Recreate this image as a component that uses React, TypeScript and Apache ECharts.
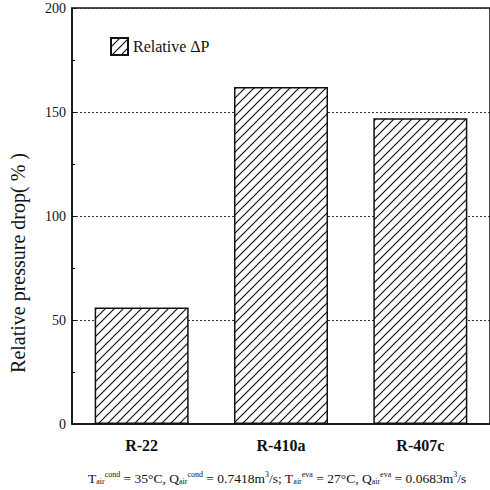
import React, { useEffect, useRef } from "react";
import * as echarts from "echarts";

const categories = ["R-22", "R-410a", "R-407c"];
const relativeDeltaP = [56, 162, 147];
const seriesName = "Relative \u0394P";
const yAxisTitle = "Relative pressure drop( % )";

const SERIF = "'Liberation Serif', 'DejaVu Serif', serif";

function makeHatch(): HTMLCanvasElement {
  const s = 9;
  const c = document.createElement("canvas");
  c.width = s;
  c.height = s;
  const ctx = c.getContext("2d")!;
  ctx.fillStyle = "#ffffff";
  ctx.fillRect(0, 0, s, s);
  ctx.strokeStyle = "#111111";
  ctx.lineWidth = 1.2;
  ctx.beginPath();
  for (const k of [0, s, 2 * s]) {
    ctx.moveTo(-2, k + 2);
    ctx.lineTo(k + 2, -2);
  }
  ctx.stroke();
  return c;
}

export default function App() {
  const ref = useRef<HTMLDivElement>(null);
  useEffect(() => {
    if (!ref.current) return;
    const chart = echarts.init(ref.current, null, { renderer: "svg" });
    const hatch = { image: makeHatch(), repeat: "repeat" } as any;
    chart.setOption({
      animation: false,
      backgroundColor: "#ffffff",
      grid: {
        left: 72,
        top: 8,
        right: -1,
        bottom: 66,
        show: true,
        borderColor: "#111",
        borderWidth: 1.5,
        backgroundColor: "transparent",
      },
      legend: {
        left: 105,
        top: 32,
        itemWidth: 17,
        itemHeight: 17,
        itemGap: 10,
        icon: "rect",
        textStyle: { fontFamily: SERIF, fontSize: 16, color: "#111" },
        data: [seriesName],
      },
      xAxis: {
        type: "category",
        data: categories,
        axisLine: { lineStyle: { color: "#111", width: 1.5 } },
        axisTick: { show: true, alignWithLabel: true, inside: true, length: 5, lineStyle: { color: "#111" } },
        axisLabel: { fontFamily: SERIF, fontSize: 16, fontWeight: "bold", color: "#111", margin: 13 },
        splitLine: { show: false },
      },
      yAxis: {
        type: "value",
        min: 0,
        max: 200,
        interval: 50,
        axisLine: { show: true, lineStyle: { color: "#111", width: 1.5 } },
        axisTick: { show: true, inside: true, length: 4, lineStyle: { color: "#111" } },
        minorTick: { show: true, splitNumber: 2, length: 3, lineStyle: { color: "#111" } },
        axisLabel: { fontFamily: SERIF, fontSize: 14, color: "#111", margin: 6 },
        splitLine: { show: true, lineStyle: { color: "#333", type: [2, 2], width: 1 } },
      },
      series: [
        {
          name: seriesName,
          type: "bar",
          data: relativeDeltaP,
          barWidth: 94,
          itemStyle: { color: hatch, borderColor: "#111", borderWidth: 1.5 },
        },
      ],
      graphic: [
        {
          type: "text",
          x: 18,
          y: 263,
          rotation: Math.PI / 2,
          style: {
            text: yAxisTitle,
            fontFamily: SERIF,
            fontSize: 20,
            fill: "#111",
            align: "center",
            verticalAlign: "middle",
          },
        },
        {
          type: "text",
          x: 88,
          y: 478,
          style: {
            text:
              "T{sb|air}{sp|cond} = 35°C, Q{sb|air}{sp|cond} = 0.7418m{sp|3}/s; T{sb|air}{sp|eva} = 27°C, Q{sb|air}{sp|eva} = 0.0683m{sp|3}/s",
            fontFamily: SERIF,
            fontSize: 13.5,
            fill: "#111",
            verticalAlign: "middle",
            lineHeight: 15,
            rich: {
              sp: { fontFamily: SERIF, fontSize: 8, fill: "#111", verticalAlign: "top", lineHeight: 15 },
              sb: { fontFamily: SERIF, fontSize: 8, fill: "#111", verticalAlign: "bottom", lineHeight: 15 },
            },
          },
        },
      ],
    });
    return () => chart.dispose();
  }, []);
  return (
    <div
      ref={ref}
      style={{ position: "fixed", left: 0, top: 0, width: 490, height: 490, background: "#fff" }}
    />
  );
}
